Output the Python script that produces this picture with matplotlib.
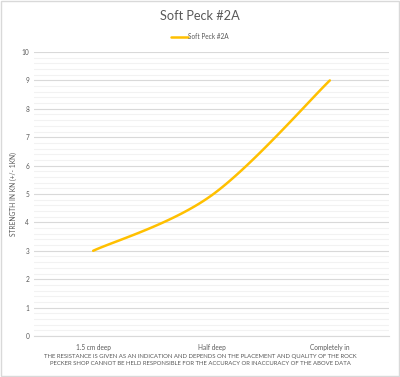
import numpy as np
import matplotlib
matplotlib.use("Agg")
import matplotlib.pyplot as plt
from matplotlib.ticker import MultipleLocator

categories = ["1.5 cm deep", "Half deep", "Completely in"]
values = [3.0, 4.95, 9.0]
series_name = "Soft Peck #2A"
title = "Soft Peck #2A"
ylabel = "STRENGTH IN KN (+/- 1KN)"
footer = ("THE RESISTANCE IS GIVEN AS AN INDICATION AND DEPENDS ON THE PLACEMENT AND QUALITY OF THE ROCK\n"
          "PECKER SHOP CANNOT BE HELD RESPONSIBLE FOR THE ACCURACY OR INACCURACY OF THE ABOVE DATA")

plt.rcParams['font.family'] = ['Lato', 'DejaVu Sans']
gray = '#595959'


def smooth(xs, ys, n=60):
    # Catmull-Rom spline through the points (Excel-like smoothed line)
    xs = np.asarray(xs, float); ys = np.asarray(ys, float)
    px = np.concatenate([[xs[0]], xs, [xs[-1]]])
    py = np.concatenate([[ys[0]], ys, [ys[-1]]])
    ox, oy = [], []
    for i in range(1, len(px) - 2):
        t = np.linspace(0, 1, n)
        for arr, out in ((px, ox), (py, oy)):
            p0, p1, p2, p3 = arr[i - 1], arr[i], arr[i + 1], arr[i + 2]
            out.extend(0.5 * ((2 * p1) + (-p0 + p2) * t + (2 * p0 - 5 * p1 + 4 * p2 - p3) * t ** 2
                              + (-p0 + 3 * p1 - 3 * p2 + p3) * t ** 3))
    return np.array(ox), np.array(oy)


fig = plt.figure(figsize=(4.0, 3.77), dpi=100)
fig.patch.set_facecolor('white')
fig.patches.append(plt.Rectangle((0.002, 0.002), 0.996, 0.996, transform=fig.transFigure,
                                 fill=False, edgecolor='#D9D9D9', linewidth=1))

ax = fig.add_axes([0.085, 0.1088, 0.8875, 0.7532])
x = np.arange(len(categories))
sx, sy = smooth(x, values)
ax.plot(sx, sy, color='#FFC000', linewidth=1.8, solid_capstyle='round', label=series_name)

ax.set_xlim(-0.5, len(categories) - 0.5)
ax.set_ylim(0, 10)
ax.yaxis.set_major_locator(MultipleLocator(1))
ax.yaxis.set_minor_locator(MultipleLocator(0.2))
ax.grid(which='major', axis='y', color='#D9D9D9', linewidth=0.8)
ax.grid(which='minor', axis='y', color='#F2F2F2', linewidth=0.8)
ax.set_axisbelow(True)
for s in ['top', 'right', 'left']:
    ax.spines[s].set_visible(False)
ax.spines['bottom'].set_color('#D9D9D9')
ax.spines['bottom'].set_linewidth(0.8)
ax.set_xticks(x)
ax.set_xticklabels(categories)
ax.tick_params(axis='both', which='both', length=0, labelsize=4.7, labelcolor=gray)
ax.tick_params(axis='x', pad=6)
ax.tick_params(axis='y', pad=3.5)

fig.text(0.033, 0.484, ylabel, rotation=90, ha='center', va='center', fontsize=4.8, color=gray)
fig.text(0.5, 0.957, title, ha='center', va='center', fontsize=9.2, color=gray)
fig.legend(loc='center', bbox_to_anchor=(0.5, 0.902), frameon=False, fontsize=4.7,
           labelcolor=gray, handlelength=2.6, handletextpad=0.1)
fig.text(0.5, 0.0455, footer, ha='center', va='center', fontsize=4.3, color=gray, linespacing=1.5)

fig.savefig('out.png', dpi=100, facecolor='white')
